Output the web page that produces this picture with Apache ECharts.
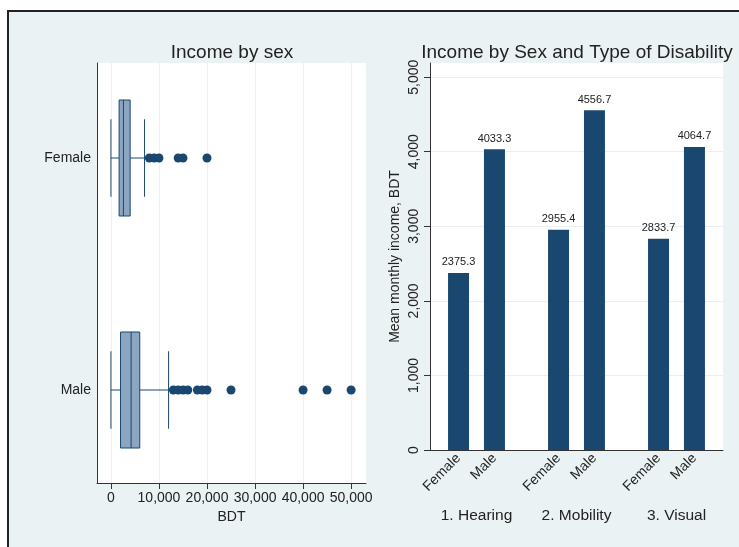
<!DOCTYPE html>
<html>
<head>
<meta charset="utf-8">
<script src="https://cdn.jsdelivr.net/npm/echarts@6/dist/echarts.min.js"></script>
<style>
  html, body { margin: 0; padding: 0; background: #fff; }
  #frame { position: absolute; left: 7px; top: 10px; width: 740px; height: 545px;
           border-left: 2px solid #222; border-top: 2px solid #222; background: #eaf2f3; }
  #chart { position: absolute; left: 0; top: 0; width: 739px; height: 547px; }
</style>
</head>
<body>
<div id="frame"></div>
<div id="chart"></div>
<script>
// Income by sex: box summaries [lower whisker, Q1, median, Q3, upper whisker]
const sexes = ['Male', 'Female'];
const femaleBox = [0, 1700, 2600, 4000, 7000];
const maleBox = [0, 2000, 4200, 6000, 12000];
const femaleOutliers = [8000, 9000, 10000, 14000, 15000, 20000];
const maleOutliers = [13000, 14000, 15000, 16000, 18000, 19000, 20000, 25000, 40000, 45000, 50000];
const incomeTicks = [0, 10000, 20000, 30000, 40000, 50000];

// Mean monthly income by sex and type of disability
const disabilityTypes = ['1. Hearing', '2. Mobility', '3. Visual'];
const femaleMean = [2375.3, 2955.4, 2833.7];
const maleMean = [4033.3, 4556.7, 4064.7];
const meanTicks = [0, 1000, 2000, 3000, 4000, 5000];

const NAVY = '#1a476f';
const BOX_FILL = '#8ca6c2';
const GRID_LINE = '#e9eff2';
const AXIS = '#333';
const TEXT = '#222';
const FONT = '"Liberation Sans", Arial, Helvetica, sans-serif';
const fmt = v => Number(v).toLocaleString('en-US');

const boxData = [
  [sexes.indexOf('Female')].concat(femaleBox),
  [sexes.indexOf('Male')].concat(maleBox)
];
const outlierData = femaleOutliers.map(v => [v, 'Female'])
  .concat(maleOutliers.map(v => [v, 'Male']));

function renderBox(params, api) {
  const cat = api.value(0);
  const lo = api.value(1), q1 = api.value(2), md = api.value(3), q3 = api.value(4), hi = api.value(5);
  const band = api.size([0, 1])[1];
  const hb = band * 0.25, hc = band * 0.167;
  const y = api.coord([0, cat])[1];
  const x = v => api.coord([v, cat])[0];
  const ls = { stroke: NAVY, lineWidth: 1, fill: null };
  return {
    type: 'group',
    children: [
      { type: 'line', shape: { x1: x(lo), y1: y, x2: x(q1), y2: y }, style: ls },
      { type: 'line', shape: { x1: x(q3), y1: y, x2: x(hi), y2: y }, style: ls },
      { type: 'line', shape: { x1: x(lo), y1: y - hc, x2: x(lo), y2: y + hc }, style: ls },
      { type: 'line', shape: { x1: x(hi), y1: y - hc, x2: x(hi), y2: y + hc }, style: ls },
      { type: 'rect', shape: { x: x(q1), y: y - hb, width: x(q3) - x(q1), height: 2 * hb },
        style: { fill: BOX_FILL, stroke: NAVY, lineWidth: 1 } },
      { type: 'line', shape: { x1: x(md), y1: y - hb, x2: x(md), y2: y + hb }, style: ls }
    ]
  };
}

const chart = echarts.init(document.getElementById('chart'), null, { renderer: 'canvas' });

chart.setOption({
  animation: false,
  textStyle: { fontFamily: FONT },
  title: [
    { text: 'Income by sex', left: 227, top: 38, textAlign: 'center',
      textStyle: { fontFamily: FONT, fontSize: 19, fontWeight: 'normal', color: TEXT } },
    { text: 'Income by Sex and Type of Disability', left: 572, top: 38, textAlign: 'center',
      textStyle: { fontFamily: FONT, fontSize: 19, fontWeight: 'normal', color: TEXT } }
  ],
  grid: [
    // 0: box plot frame (background, axis lines, ticks)
    { left: 97, top: 63, width: 269, height: 420, show: true, backgroundColor: '#fff', borderWidth: 0 },
    // 1: box plot data
    { left: 97, top: 42, width: 269, height: 464, show: false },
    // 2: bar chart frame
    { left: 430, top: 63, width: 293, height: 387, show: true, backgroundColor: '#fff', borderWidth: 0 },
    // 3: bar chart data
    { left: 426.5, top: 63, width: 300, height: 387, show: false }
  ],
  xAxis: [
    { gridIndex: 0, type: 'value', min: -2900, max: 53100,
      axisLine: { show: true, lineStyle: { color: AXIS, width: 1 } },
      axisTick: { show: true, length: 6, customValues: incomeTicks, lineStyle: { color: AXIS } },
      axisLabel: { customValues: incomeTicks, formatter: fmt, fontSize: 14, color: TEXT, margin: 8, fontFamily: FONT },
      splitLine: { show: true, lineStyle: { color: GRID_LINE, width: 1 } },
      name: 'BDT', nameLocation: 'middle', nameGap: 24,
      nameTextStyle: { fontSize: 14, color: TEXT, fontFamily: FONT } },
    { gridIndex: 1, type: 'value', min: -2900, max: 53100, show: false },
    { gridIndex: 2, type: 'category', data: disabilityTypes,
      axisLine: { show: true, lineStyle: { color: AXIS, width: 1 } },
      axisTick: { show: false }, axisLabel: { show: false }, splitLine: { show: false } },
    { gridIndex: 3, type: 'category', data: disabilityTypes,
      axisLine: { show: false }, axisTick: { show: false },
      axisLabel: { fontSize: 15.5, color: TEXT, margin: 58, fontFamily: FONT } },
    { gridIndex: 3, type: 'category', data: disabilityTypes, position: 'top', show: false }
  ],
  yAxis: [
    { gridIndex: 0, type: 'value', min: 0, max: 1,
      axisLine: { show: true, onZero: false, lineStyle: { color: AXIS, width: 1 } },
      axisTick: { show: false }, axisLabel: { show: false }, splitLine: { show: false } },
    { gridIndex: 1, type: 'category', data: sexes,
      axisLine: { show: false }, axisTick: { show: false },
      axisLabel: { fontSize: 14, color: TEXT, margin: 6, fontFamily: FONT } },
    { gridIndex: 2, type: 'value', min: 0, max: 5190,
      axisLine: { show: true, onZero: false, lineStyle: { color: AXIS, width: 1 } },
      axisTick: { show: true, length: 6, customValues: meanTicks, lineStyle: { color: AXIS } },
      axisLabel: { customValues: meanTicks, formatter: fmt, rotate: 90, fontSize: 14, color: TEXT,
                   margin: 9, fontFamily: FONT },
      splitLine: { show: true, lineStyle: { color: GRID_LINE, width: 1 } },
      name: 'Mean monthly income, BDT', nameLocation: 'middle', nameRotate: 90, nameGap: 28,
      nameTextStyle: { fontSize: 14, color: TEXT, fontFamily: FONT } },
    { gridIndex: 3, type: 'value', min: 0, max: 5190, show: false }
  ],
  series: [
    { type: 'custom', name: 'Income', xAxisIndex: 1, yAxisIndex: 1,
      renderItem: renderBox, encode: { x: [1, 2, 3, 4, 5], y: 0 }, data: boxData, silent: true },
    { type: 'scatter', xAxisIndex: 1, yAxisIndex: 1, data: outlierData,
      symbol: 'circle', symbolSize: 9, itemStyle: { color: NAVY, opacity: 1 }, silent: true },
    { type: 'bar', name: 'Female', xAxisIndex: 3, yAxisIndex: 3, data: femaleMean,
      barWidth: 21, barGap: '71%', itemStyle: { color: NAVY },
      label: { show: true, position: 'top', distance: 5, fontSize: 11, color: TEXT, fontFamily: FONT,
               formatter: p => p.value.toFixed(1) } },
    { type: 'bar', name: 'Male', xAxisIndex: 3, yAxisIndex: 3, data: maleMean,
      barWidth: 21, barGap: '71%', itemStyle: { color: NAVY },
      label: { show: true, position: 'top', distance: 5, fontSize: 11, color: TEXT, fontFamily: FONT,
               formatter: p => p.value.toFixed(1) } },
    // sex labels under each bar
    { type: 'bar', name: 'Female', xAxisIndex: 4, yAxisIndex: 3, data: [0, 0, 0],
      barWidth: 21, barGap: '71%', itemStyle: { color: 'transparent' }, silent: true,
      label: { show: true, position: 'bottom', distance: 6, rotate: 45, align: 'right',
               verticalAlign: 'middle', fontSize: 14, color: TEXT, fontFamily: FONT,
               formatter: p => p.seriesName } },
    { type: 'bar', name: 'Male', xAxisIndex: 4, yAxisIndex: 3, data: [0, 0, 0],
      barWidth: 21, barGap: '71%', itemStyle: { color: 'transparent' }, silent: true,
      label: { show: true, position: 'bottom', distance: 6, rotate: 45, align: 'right',
               verticalAlign: 'middle', fontSize: 14, color: TEXT, fontFamily: FONT,
               formatter: p => p.seriesName } }
  ]
});
</script>
</body>
</html>
